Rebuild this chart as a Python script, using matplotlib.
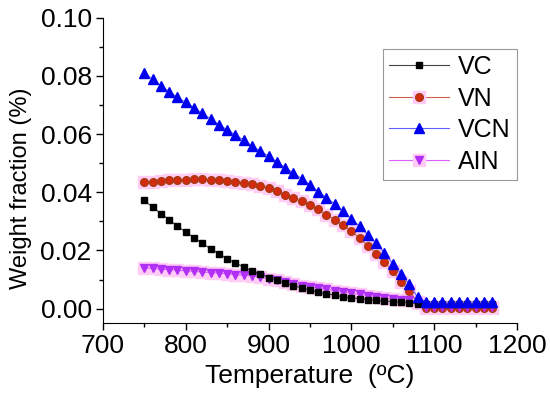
import matplotlib.pyplot as plt
from matplotlib.lines import Line2D
import numpy as np

plt.rcParams['font.family'] = ['Liberation Sans', 'DejaVu Sans']

# temperatures (ºC)
temp = [750, 760, 770, 780, 790, 800, 810, 820, 830, 840, 850, 860, 870, 880,
        890, 900, 910, 920, 930, 940, 950, 960, 970, 980, 990, 1000, 1010, 1020,
        1030, 1040, 1050, 1060, 1070, 1080, 1090, 1100, 1110, 1120, 1130, 1140,
        1150, 1160, 1170]

vc = [0.0372, 0.0349, 0.0327, 0.0306, 0.0284, 0.0263, 0.0244, 0.0225, 0.0206,
      0.0189, 0.0172, 0.0157, 0.0143, 0.0129, 0.0120, 0.0106, 0.0097, 0.0087,
      0.0079, 0.0071, 0.0064, 0.0056, 0.0051, 0.0046, 0.0040, 0.0037, 0.0034,
      0.0031, 0.0029, 0.0026, 0.0024, 0.0022, 0.0020, 0.0017, 0.0015, 0.0015,
      0.0015, 0.0015, 0.0015, 0.0015, 0.0015, 0.0015, 0.0015]

vn = [0.0434, 0.0437, 0.0439, 0.0441, 0.0442, 0.0443, 0.0444, 0.0444, 0.0443,
      0.0441, 0.0439, 0.0436, 0.0433, 0.0428, 0.0422, 0.0414, 0.0403, 0.0391,
      0.0379, 0.0370, 0.0357, 0.0341, 0.0323, 0.0306, 0.0286, 0.0266, 0.0242,
      0.0216, 0.0189, 0.0159, 0.0128, 0.0093, 0.0060, 0.0022, 0.0003, 0.0003,
      0.0003, 0.0003, 0.0003, 0.0003, 0.0003, 0.0003, 0.0003]

vcn = [0.0810, 0.0789, 0.0767, 0.0746, 0.0727, 0.0709, 0.0691, 0.0671, 0.0653,
       0.0633, 0.0615, 0.0598, 0.0579, 0.0560, 0.0542, 0.0524, 0.0505, 0.0485,
       0.0467, 0.0447, 0.0426, 0.0402, 0.0382, 0.0359, 0.0334, 0.0309, 0.0283,
       0.0254, 0.0224, 0.0191, 0.0155, 0.0120, 0.0083, 0.0039, 0.0022, 0.0022,
       0.0022, 0.0022, 0.0022, 0.0022, 0.0022, 0.0022, 0.0022]

ain = [0.0140, 0.0138, 0.0136, 0.0134, 0.0132, 0.0130, 0.0128, 0.0126, 0.0124,
       0.0122, 0.0120, 0.0117, 0.0115, 0.0113, 0.0108, 0.0102, 0.0097, 0.0091,
       0.0085, 0.0079, 0.0075, 0.0071, 0.0066, 0.0062, 0.0057, 0.0053, 0.0049,
       0.0045, 0.0041, 0.0037, 0.0034, 0.0031, 0.0028, 0.0020, 0.0005, 0.0005,
       0.0005, 0.0005, 0.0005, 0.0005, 0.0005, 0.0005, 0.0005]

pink = '#ffccf5'

fig = plt.figure(figsize=(5.5, 3.96), dpi=100)
ax = fig.add_axes([0.187, 0.184, 0.753, 0.771])

# pink halos behind VN and AIN
ax.plot(temp, vn, ls='none', marker='s', ms=8, mfc=pink, mec=pink, zorder=1)
ax.plot(temp, ain, ls='none', marker='s', ms=8, mfc=pink, mec=pink, zorder=1)

ax.plot(temp, vn, color='#d06050', lw=0.8, marker='o', ms=5.5,
        mfc='#d42a10', mec='#a83a10', zorder=2)
ax.plot(temp, ain, color='#e060ff', lw=0.8, marker='v', ms=6,
        mfc='#b030f5', mec='#b030f5', zorder=2)
ax.plot(temp, vc, color='#444444', lw=0.8, marker='s', ms=4,
        mfc='black', mec='black', zorder=3)
ax.plot(temp, vcn, color='#6060ff', lw=0.8, marker='^', ms=6.5,
        mfc='#0000ee', mec='#0000ee', zorder=4)

ax.set_xlim(700, 1200)
ax.set_ylim(-0.005, 0.10)
ax.set_xticks([700, 800, 900, 1000, 1100, 1200])
ax.set_xticks(np.arange(750, 1200, 100), minor=True)
ax.set_yticks([0.00, 0.02, 0.04, 0.06, 0.08, 0.10])
ax.set_yticks([0.01, 0.03, 0.05, 0.07, 0.09], minor=True)
ax.set_yticklabels(['0.00', '0.02', '0.04', '0.06', '0.08', '0.10'])
ax.tick_params(which='major', length=5, width=1, labelsize=19, pad=3)
ax.tick_params(which='minor', length=3, width=1)
ax.spines['top'].set_visible(False)
ax.spines['right'].set_visible(False)
ax.set_xlabel('Temperature  (ºC)', fontsize=19, labelpad=4)
ax.set_ylabel('Weight fraction (%)', fontsize=17)
ax.yaxis.set_label_coords(-0.172, 0.443)

h_vc = Line2D([], [], color='#444444', lw=0.8, marker='s', ms=4, mfc='black', mec='black')
h_vn = (Line2D([], [], color='#d06050', lw=0.8, marker='s', ms=8, mfc=pink, mec=pink),
        Line2D([], [], ls='none', marker='o', ms=5.5, mfc='#d42a10', mec='#a83a10'))
h_vcn = Line2D([], [], color='#6060ff', lw=0.8, marker='^', ms=6.5, mfc='#0000ee', mec='#0000ee')
h_ain = (Line2D([], [], color='#e060ff', lw=0.8, marker='s', ms=8, mfc=pink, mec=pink),
         Line2D([], [], ls='none', marker='v', ms=6, mfc='#b030f5', mec='#b030f5'))

leg = ax.legend([h_vc, h_vn, h_vcn, h_ain], ['VC', 'VN', 'VCN', 'AIN'],
                loc='upper right', bbox_to_anchor=(1.0, 0.898), fontsize=18,
                handlelength=2.4, fancybox=False, framealpha=1,
                borderpad=0.25, labelspacing=0.3, handletextpad=0.35,
                borderaxespad=0)
leg.get_frame().set_edgecolor('#999999')
leg.get_frame().set_linewidth(0.8)

fig.savefig('out.png', dpi=100)
